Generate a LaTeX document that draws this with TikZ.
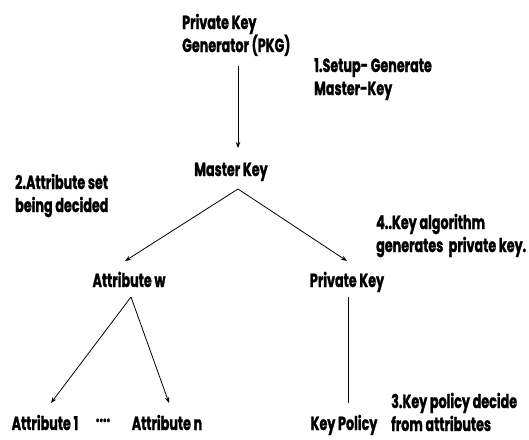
\documentclass[tikz,border=0pt]{standalone}
\usepackage{fontspec}
\setmainfont{Poppins}[FakeStretch=0.67,BoldFeatures={FakeBold=1.2}]
\usetikzlibrary{arrows.meta,calc}
\begin{document}
\begin{tikzpicture}[x=1pt,y=-1pt,
    lbl/.style={inner sep=0pt,font=\fontsize{19}{23}\selectfont\bfseries,anchor=base},
    note/.style={lbl,anchor=base west,align=left},
    conn/.style={line width=0.8pt,draw=black},
    arr/.style={conn,-{Stealth[length=6pt,width=4.5pt]}}]
  \useasboundingbox (0,0) rectangle (529,439);
  % tree nodes (multi-line notes are placed by the baseline of their last line)
  \node[note] (pkg) at (182,52) {Private Key\\Generator (PKG)};
  \node[lbl] (mk) at (231,176) {Master Key};
  \node[lbl] (aw) at (129,287) {Attribute w};
  \node[lbl] (pk) at (347,287) {Private Key};
  \node[lbl] (a1) at (45,430) {Attribute 1};
  \node[lbl] (dots) at (103,430) {\raisebox{8pt}{....}};
  \node[lbl] (an) at (167,430) {Attribute n};
  \node[lbl] (kp) at (344,430) {Key Policy};
  % step notes
  \node[note] (s1) at (314,95) {1.Setup- Generate\\Master-Key};
  \node[note] (s2) at (15,212) {2.Attribute set\\being decided};
  \node[note] (s4) at (376,252) {4..Key algorithm\\generates~ private key.};
  \node[note] (s3) at (391,431) {3.Key policy decide\\from attributes};
  % connectors
  \draw[arr] ($(mk.base)+(7,-110)$) -- ($(mk.base)+(7,-28)$);
  \coordinate (mkfoot) at ($(mk.base)+(7,13)$);
  \draw[arr] (mkfoot) -- ($(aw.base)+(-4,-26)$);
  \draw[arr] (mkfoot) -- ($(pk.base)+(0,-26)$);
  \coordinate (awfoot) at ($(aw.base)+(2,10)$);
  \draw[arr] (awfoot) -- ($(a1.base)+(6,-27)$);
  \draw[arr] (awfoot) -- ($(an.base)+(2,-27)$);
  \draw[conn] ($(pk.base)+(1,10)$) -- ($(kp.base)+(4,-27)$);
\end{tikzpicture}
\end{document}
